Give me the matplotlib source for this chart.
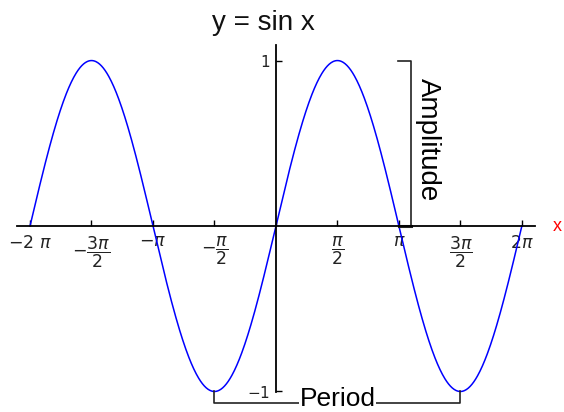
import numpy as np
import matplotlib.pyplot as plt

plt.rcParams['font.family'] = ['Liberation Sans', 'DejaVu Sans']
plt.rcParams['mathtext.fontset'] = 'dejavusans'

# funksiyon ve tik degerleri
x_min, x_max = -2 * np.pi, 2 * np.pi
amplitude = 1.0
x_ticks = [-2 * np.pi, -1.5 * np.pi, -np.pi, -0.5 * np.pi, 0,
           0.5 * np.pi, np.pi, 1.5 * np.pi, 2 * np.pi]
x_tick_labels = [r'$-2\ \pi$', r'$-\dfrac{3\pi}{2}$', r'$-\pi$', r'$-\dfrac{\pi}{2}$', '',
                 r'$\dfrac{\pi}{2}$', r'$\pi$', r'$\dfrac{3\pi}{2}$', r'$2\pi$']
y_ticks = [-1, 1]
y_tick_labels = [r'$-1$', r'$1$']

x = np.linspace(x_min, x_max, 800)
y = amplitude * np.sin(x)

fig = plt.figure(figsize=(5.64, 4.12), dpi=100)
ax = fig.add_axes([0, 0, 1, 1])
ax.set_xlim(-7.05, 7.36)
ax.set_ylim(-1.124, 1.366)

ax.plot(x, y, color='blue', lw=1.1)

# eksenler ortada
for s in ['top', 'right']:
    ax.spines[s].set_visible(False)
ax.spines['bottom'].set_position(('data', 0))
ax.spines['left'].set_position(('data', 0))
ax.spines['bottom'].set_bounds(-6.62, 6.62)
ax.spines['left'].set_bounds(-1.003, 1.094)
ax.spines['bottom'].set_linewidth(1.3)
ax.spines['left'].set_linewidth(1.3)

ax.set_xticks(x_ticks)
ax.set_xticklabels(x_tick_labels, fontsize=12.5, color='#222222')
ax.set_yticks(y_ticks)
ax.set_yticklabels(y_tick_labels, fontsize=11, color='#222222')
ax.tick_params(axis='both', direction='in', length=4, width=1)
ax.tick_params(axis='x', pad=6)
ax.tick_params(axis='y', pad=4)

# baslik ve x etiketi
ax.text(-0.33, 1.225, 'y = sin x', fontsize=20, ha='center', va='center', color='#111111')
ax.text(7.2, 0, 'x', fontsize=13, color='red', ha='center', va='center')

# genlik
ax.plot([np.pi - 0.03, 3.448, 3.448], [amplitude, amplitude, 0], color='#222222', lw=1.2)
ax.plot([np.pi, 3.448], [0, 0], color='#222222', lw=2.2)
ax.text(3.88, 0.52, 'Amplitude', fontsize=20, rotation=-90, ha='center', va='center')

# periyot
ax.plot([-0.5 * np.pi, -0.5 * np.pi, 1.5 * np.pi, 1.5 * np.pi],
        [-amplitude, -1.07, -1.07, -amplitude], color='#222222', lw=1.2)
ax.text(0.5 * np.pi, -1.045, 'Period', fontsize=19, ha='center', va='center',
        bbox=dict(facecolor='white', edgecolor='none', pad=0.5))

fig.savefig('out.png', dpi=100)
